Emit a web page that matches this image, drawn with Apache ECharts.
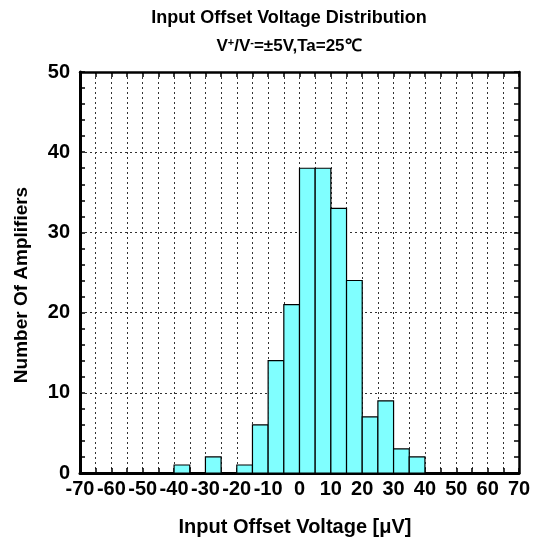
<!DOCTYPE html>
<html><head><meta charset="utf-8">
<script src="https://cdn.jsdelivr.net/npm/echarts@6/dist/echarts.min.js"></script>
<style>html,body{margin:0;padding:0;background:#fff}#c{width:537px;height:542px}</style>
</head><body><div id="c"></div>
<script>
// Histogram bins (left edge, µV), width 5 µV
const binStart = [-40, -30, -20, -15, -10, -5, 0, 5, 10, 15, 20, 25, 30, 35];
const binWidth = 5;
const counts   = [1, 2, 1, 6, 14, 21, 38, 38, 33, 24, 7, 9, 3, 2];
const xTicks = [-70, 70];
const yTicks = [0, 50];

const FONT = '"Liberation Sans", Arial, sans-serif';
const chart = echarts.init(document.getElementById('c'), null, {renderer: 'canvas'});
const data = binStart.map((s, i) => [s, s + binWidth, counts[i]]);

chart.setOption({
  animation: false,
  backgroundColor: '#fff',
  title: [
    {text: 'Input Offset Voltage Distribution', left: 284, top: 4, textAlign: 'center',
     textStyle: {fontFamily: FONT, fontWeight: 'bold', fontSize: 18, color: '#000'}},
    {text: '{a|V}{s|+}{a|/V}{s|-}{a|=±5V,Ta=25℃}', left: 284, top: 32, textAlign: 'center',
     textStyle: {rich: {
       a: {fontFamily: FONT, fontWeight: 'bold', fontSize: 17, color: '#000'},
       s: {fontFamily: FONT, fontWeight: 'bold', fontSize: 11, color: '#000', verticalAlign: 'top', padding: [0,0,7,0]}
     }}},
    {text: 'Input Offset Voltage [μV]', left: 290, top: 512, textAlign: 'center',
     textStyle: {fontFamily: FONT, fontWeight: 'bold', fontSize: 20, color: '#000'}}
  ],
  graphic: [{
    type: 'text', x: 22, y: 285, rotation: Math.PI / 2,
    style: {text: 'Number Of Amplifiers', fontFamily: FONT, fontWeight: 'bold', fontSize: 19,
            fill: '#000', align: 'center', verticalAlign: 'middle'}
  }],
  grid: {left: 80, right: 18, top: 72, bottom: 69, containLabel: false},
  xAxis: [{
    type: 'value', min: xTicks[0], max: xTicks[1], interval: 5,
    axisLine: {onZero: false, lineStyle: {color: '#000', width: 3}},
    axisTick: {inside: true, length: 5, lineStyle: {color: '#000', width: 1.5}},
    axisLabel: {fontFamily: FONT, fontWeight: 'bold', fontSize: 20, color: '#000', margin: 6,
      hideOverlap: false,
      formatter: v => (v % 10 === 0 ? String(v) : '')},
    splitLine: {show: true, lineStyle: {color: '#333', type: [2, 3], width: 1}}
  }, {
    type: 'value', position: 'top', min: xTicks[0], max: xTicks[1], interval: 5,
    axisLine: {show: true, onZero: false, lineStyle: {color: '#000', width: 2.5}},
    axisTick: {inside: true, length: 5, lineStyle: {color: '#000', width: 1.5}},
    axisLabel: {show: false}, splitLine: {show: false}
  }],
  yAxis: [{
    type: 'value', min: yTicks[0], max: yTicks[1], interval: 10,
    axisLine: {show: true, onZero: false, lineStyle: {color: '#000', width: 3}},
    axisTick: {show: true, inside: true, length: 5, lineStyle: {color: '#000', width: 1.5}},
    minorTick: {show: true, splitNumber: 5, length: 5, lineStyle: {color: '#000', width: 1.5}},
    axisLabel: {fontFamily: FONT, fontWeight: 'bold', fontSize: 20, color: '#000', margin: 10,
      padding: [0, 0, 6, 0]},
    splitLine: {show: true, lineStyle: {color: '#333', type: [2, 3], width: 1}}
  }, {
    type: 'value', position: 'right', min: yTicks[0], max: yTicks[1], interval: 10,
    axisLine: {show: true, onZero: false, lineStyle: {color: '#000', width: 2.5}},
    axisTick: {show: true, inside: true, length: 5, lineStyle: {color: '#000', width: 1.5}},
    minorTick: {show: true, splitNumber: 5, length: 5, lineStyle: {color: '#000', width: 1.5}},
    axisLabel: {show: false}, splitLine: {show: false}
  }],
  series: [{
    type: 'custom',
    xAxisIndex: 0, yAxisIndex: 0,
    encode: {x: [0, 1], y: 2},
    data: data,
    renderItem: function (params, api) {
      const p0 = api.coord([api.value(0), 0]);
      const p1 = api.coord([api.value(1), api.value(2)]);
      return {
        type: 'rect',
        shape: {x: p0[0], y: p1[1], width: p1[0] - p0[0], height: p0[1] - p1[1]},
        style: {fill: '#80ffff', stroke: '#000', lineWidth: 1.2}
      };
    }
  }]
});
</script></body></html>
